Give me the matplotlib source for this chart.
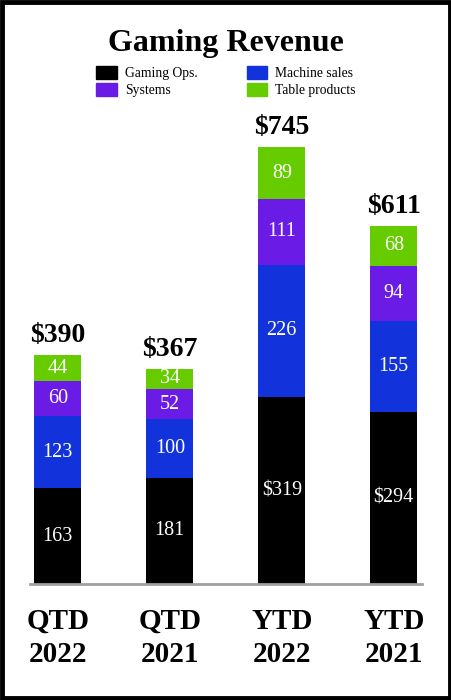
import numpy as np
import matplotlib
matplotlib.use("Agg")
import matplotlib.pyplot as plt
from matplotlib.patches import Patch, Rectangle

plt.rcParams["font.family"] = ["Liberation Serif", "DejaVu Serif"]

categories = ["QTD\n2022", "QTD\n2021", "YTD\n2022", "YTD\n2021"]
series_names = ["Gaming Ops.", "Machine sales", "Systems", "Table products"]
gaming_ops = [163, 181, 319, 294]
machine_sales = [123, 100, 226, 155]
systems = [60, 52, 111, 94]
table_products = [44, 34, 89, 68]
totals = [390, 367, 745, 611]
gaming_ops_labels = ["163", "181", "$319", "$294"]

colors = ["#000000", "#1232DC", "#6A1CE6", "#66CC00"]

fig = plt.figure(figsize=(4.52, 7.0), dpi=100)
ax = fig.add_axes([0.066, 0.1657, 0.867, 0.67])

x = np.arange(len(categories))
width = 0.42
stack = [gaming_ops, machine_sales, systems, table_products]
bottom = np.zeros(len(categories))
for i, (vals, name) in enumerate(zip(stack, series_names)):
    vals = np.array(vals, dtype=float)
    ax.bar(x, vals, width, bottom=bottom, color=colors[i], label=name)
    labels = gaming_ops_labels if i == 0 else [str(int(v)) for v in vals]
    for xi, b, v, lab in zip(x, bottom, vals, labels):
        ax.text(xi, b + v / 2, lab, ha="center", va="center",
                color="white", fontsize=14.5)
    bottom += vals

for xi, t in zip(x, totals):
    ax.annotate(f"${t}", (xi, t), xytext=(0, 5), textcoords="offset points",
                ha="center", va="bottom", fontsize=20, fontweight="bold")

ax.set_xlim(-0.25, 3.25)
ax.set_ylim(0, 800)
ax.set_xticks(x)
ax.set_xticklabels(categories, fontsize=21, fontweight="bold", linespacing=1.3)
ax.tick_params(axis="x", length=0, pad=17)
ax.set_yticks([])
for s in ["top", "right", "left"]:
    ax.spines[s].set_visible(False)
ax.spines["bottom"].set_color("#a0a0a0")
ax.spines["bottom"].set_linewidth(2)

fig.text(0.5, 0.938, "Gaming Revenue", ha="center", va="center",
         fontsize=23, fontweight="bold")

handles = [Patch(color=colors[0]), Patch(color=colors[2]),
           Patch(color=colors[1]), Patch(color=colors[3])]
names = [series_names[0], series_names[2], series_names[1], series_names[3]]
fig.legend(handles, names, ncol=2, loc="center", bbox_to_anchor=(0.5, 0.884),
           frameon=False, fontsize=9.8, handlelength=1.5, handleheight=1.1,
           columnspacing=3.6, labelspacing=0.2, handletextpad=0.6,
           borderaxespad=0)

fig.patches.append(Rectangle((0.004, 0.003), 0.992, 0.994, transform=fig.transFigure,
                             fill=False, edgecolor="black", linewidth=3.5))

fig.savefig("out.png", dpi=100)
